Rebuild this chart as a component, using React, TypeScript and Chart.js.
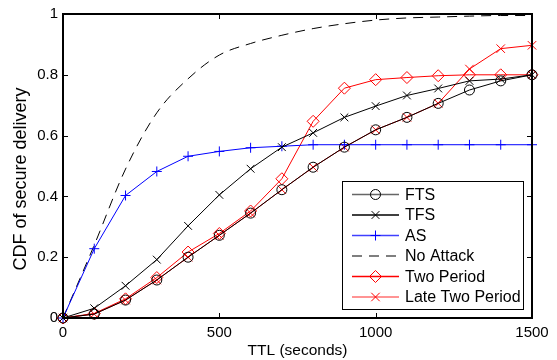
import React, { useEffect, useRef } from "react";
import { Chart, registerables } from "chart.js";

Chart.register(...registerables);

const ttl = [0, 100, 200, 300, 400, 500, 600, 700, 800, 900, 1000, 1100, 1200, 1300, 1400, 1500];
const fts = [0, 0.013, 0.059, 0.125, 0.2, 0.272, 0.345, 0.422, 0.496, 0.562, 0.619, 0.66, 0.706, 0.75, 0.78, 0.8];
const tfs = [0, 0.032, 0.106, 0.192, 0.303, 0.405, 0.491, 0.562, 0.609, 0.66, 0.697, 0.732, 0.755, 0.78, 0.786, 0.8];
const asAttack = [0, 0.228, 0.403, 0.482, 0.532, 0.548, 0.56, 0.565, 0.57, 0.57, 0.57, 0.57, 0.57, 0.57, 0.57, 0.57];
const noAttack = [0, 0.24, 0.49, 0.675, 0.787, 0.865, 0.903, 0.93, 0.952, 0.968, 0.98, 0.987, 0.99, 0.993, 0.995, 0.995];
const twoPeriod = [0, 0.015, 0.063, 0.133, 0.217, 0.278, 0.352, 0.458, 0.647, 0.756, 0.784, 0.791, 0.797, 0.8, 0.8, 0.8];
const lateTwoPeriod = [0, 0.013, 0.059, 0.125, 0.2, 0.272, 0.345, 0.422, 0.496, 0.562, 0.619, 0.66, 0.706, 0.819, 0.886, 0.897];

const xTicks = [0, 500, 1000, 1500];
const yTicks = [0, 0.2, 0.4, 0.6, 0.8, 1];
const xTitle = "TTL (seconds)";
const yTitle = "CDF of secure delivery";

const FONT = '"Liberation Sans", Arial, Helvetica, sans-serif';

function toXY(ys: number[]) {
  return ys.map((y, i) => ({ x: ttl[i], y }));
}

function drawMarker(ctx: CanvasRenderingContext2D, style: string | false, x: number, y: number, r: number) {
  if (!style) return;
  ctx.beginPath();
  if (style === "circle") {
    ctx.arc(x, y, r, 0, Math.PI * 2);
  } else if (style === "crossRot") {
    const d = r * Math.SQRT1_2;
    ctx.moveTo(x - d, y - d);
    ctx.lineTo(x + d, y + d);
    ctx.moveTo(x - d, y + d);
    ctx.lineTo(x + d, y - d);
  } else if (style === "cross") {
    ctx.moveTo(x - r, y);
    ctx.lineTo(x + r, y);
    ctx.moveTo(x, y - r);
    ctx.lineTo(x, y + r);
  } else if (style === "rectRot") {
    ctx.moveTo(x, y - r);
    ctx.lineTo(x + r, y);
    ctx.lineTo(x, y + r);
    ctx.lineTo(x - r, y);
    ctx.closePath();
  }
  ctx.stroke();
}

const framePlugin = {
  id: "matlabFrame",
  afterDatasetsDraw(chart: any) {
    const { ctx, chartArea } = chart;
    const { left, right, top, bottom } = chartArea;
    const xs = chart.scales.x;
    const ys = chart.scales.y;
    ctx.save();
    ctx.strokeStyle = "#000";
    ctx.lineWidth = 1;
    ctx.setLineDash([]);
    ctx.beginPath();
    const tl = 5;
    xTicks.forEach((v) => {
      const px = Math.round(xs.getPixelForValue(v)) + 0.5;
      ctx.moveTo(px, bottom);
      ctx.lineTo(px, bottom - tl);
      ctx.moveTo(px, top);
      ctx.lineTo(px, top + tl);
    });
    yTicks.forEach((v) => {
      const py = Math.round(ys.getPixelForValue(v)) + 0.5;
      ctx.moveTo(left, py);
      ctx.lineTo(left + tl, py);
      ctx.moveTo(right, py);
      ctx.lineTo(right - tl, py);
    });
    ctx.stroke();
    ctx.lineWidth = 2;
    ctx.strokeRect(left, top, right - left, bottom - top);

    // y-axis title
    ctx.save();
    ctx.translate(26, (top + bottom) / 2 + 13);
    ctx.rotate(-Math.PI / 2);
    ctx.font = `18px ${FONT}`;
    ctx.fillStyle = "#000";
    ctx.textAlign = "center";
    ctx.textBaseline = "alphabetic";
    ctx.fillText(yTitle, 0, 0);
    ctx.restore();
    ctx.restore();
  },
};

const legendPlugin = {
  id: "boxLegend",
  afterDraw(chart: any) {
    const { ctx, chartArea } = chart;
    const w = 181;
    const h = 128;
    const x0 = Math.round(chartArea.right - 9 - w);
    const y0 = Math.round(chartArea.bottom - 9 - h);
    ctx.save();
    ctx.fillStyle = "#fff";
    ctx.fillRect(x0, y0, w, h);
    ctx.strokeStyle = "#000";
    ctx.lineWidth = 1;
    ctx.setLineDash([]);
    ctx.strokeRect(x0 + 0.5, y0 + 0.5, w, h);
    ctx.font = `16px ${FONT}`;
    ctx.textBaseline = "middle";
    ctx.textAlign = "left";
    chart.data.datasets.forEach((ds: any, i: number) => {
      const y = y0 + 13.5 + i * 20.5;
      ctx.strokeStyle = ds.legendColor || ds.borderColor;
      ctx.lineWidth = 1.5;
      ctx.setLineDash(ds.borderDash || []);
      ctx.beginPath();
      ctx.moveTo(x0 + 10, y);
      ctx.lineTo(x0 + 57, y);
      ctx.stroke();
      ctx.setLineDash([]);
      ctx.lineWidth = 1;
      ctx.strokeStyle = ds.borderColor;
      drawMarker(ctx, ds.pointRadius > 0 ? ds.pointStyle : false, x0 + 33.5, y, ds.pointRadius);
      ctx.fillStyle = "#000";
      ctx.fillText(ds.label, x0 + 63, y + 1);
    });
    ctx.restore();
  },
};

export default function App() {
  const ref = useRef<HTMLCanvasElement | null>(null);

  useEffect(() => {
    if (!ref.current) return;
    const common = {
      borderWidth: 1,
      pointBorderWidth: 1,
      pointBackgroundColor: "rgba(0,0,0,0)",
      pointHoverRadius: 0,
      tension: 0,
      clip: false as const,
      fill: false,
    };
    const chart = new Chart(ref.current, {
      type: "line",
      data: {
        datasets: [
          { ...common, label: "FTS", data: toXY(fts), borderColor: "#000", pointBorderColor: "#000", pointStyle: "circle", pointRadius: 5, legendColor: "#666" } as any,
          { ...common, label: "TFS", data: toXY(tfs), borderColor: "#000", pointBorderColor: "#000", pointStyle: "crossRot", pointRadius: 5.5 } as any,
          { ...common, label: "AS", data: toXY(asAttack), borderColor: "#0000ff", pointBorderColor: "#0000ff", pointStyle: "cross", pointRadius: 5, legendColor: "#4040ff" } as any,
          { ...common, label: "No Attack", data: toXY(noAttack), borderColor: "#000", pointRadius: 0, borderDash: [10, 7], cubicInterpolationMode: "monotone", legendColor: "#555" } as any,
          { ...common, label: "Two Period", data: toXY(twoPeriod), borderColor: "#ff0000", pointBorderColor: "#ff0000", pointStyle: "rectRot", pointRadius: 6 } as any,
          { ...common, label: "Late Two Period", data: toXY(lateTwoPeriod), borderColor: "#ff0000", pointBorderColor: "#ff0000", pointStyle: "crossRot", pointRadius: 6, legendColor: "#ff7070" } as any,
        ],
      },
      options: {
        animation: false,
        responsive: false,
        devicePixelRatio: 1,
        events: [],
        layout: { padding: { left: 0, top: 13, right: 25, bottom: 0 } },
        plugins: { legend: { display: false }, tooltip: { enabled: false } },
        scales: {
          x: {
            type: "linear",
            min: 0,
            max: 1500,
            afterFit: (s: any) => { s.height = 42; },
            afterBuildTicks: (s: any) => { s.ticks = xTicks.map((v) => ({ value: v })); },
            grid: { display: false, drawTicks: false },
            border: { display: false },
            ticks: { color: "#000", font: { family: FONT, size: 15 }, padding: 6, maxRotation: 0, callback: (v: any) => String(v) },
            title: { display: true, text: xTitle, color: "#000", font: { family: FONT, size: 15.5 }, padding: { top: 0, bottom: 0 } },
          },
          y: {
            type: "linear",
            min: 0,
            max: 1,
            afterFit: (s: any) => { s.width = 63; },
            afterBuildTicks: (s: any) => { s.ticks = yTicks.map((v) => ({ value: v })); },
            grid: { display: false, drawTicks: false },
            border: { display: false },
            ticks: { color: "#000", font: { family: FONT, size: 15 }, padding: 5, callback: (v: any) => String(Math.round(Number(v) * 10) / 10) },
            title: { display: false },
          },
        },
      },
      plugins: [framePlugin, legendPlugin],
    });
    return () => chart.destroy();
  }, []);

  return (
    <div style={{ position: "absolute", left: 0, top: 0, width: 557, height: 360, background: "#fff" }}>
      <canvas ref={ref} width={557} height={360} style={{ display: "block", width: 557, height: 360 }} />
    </div>
  );
}
